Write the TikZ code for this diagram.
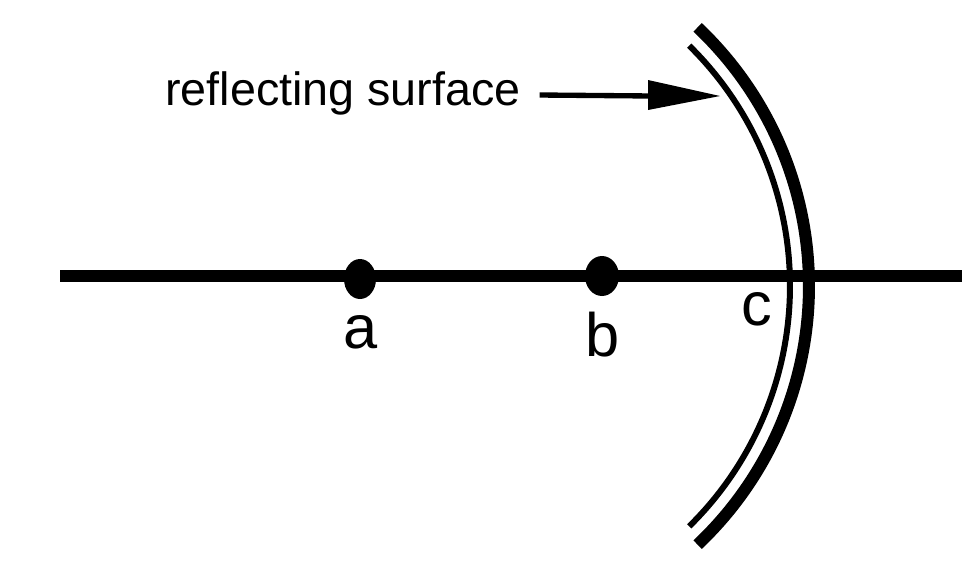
\documentclass[tikz,border=0pt]{standalone}
\usepackage{fontspec}
\setmainfont{Liberation Sans}
\begin{document}
\begin{tikzpicture}[x=0.75pt,y=-0.75pt,
  lbl/.style={font=\fontsize{46}{50}\selectfont,inner sep=0pt}]
\useasboundingbox (0,0) rectangle (979,583);
\coordinate (L) at (60,276);
\coordinate (R) at (962,276);
\draw[line width=9.5pt] (L) -- (R);
\node[circle,fill=black,minimum size=30pt,inner sep=0pt,xscale=0.8] (a) at (360,279) {};
\node[circle,fill=black,minimum size=30pt,inner sep=0pt,xscale=0.85] (b) at (602,276) {};
\node[lbl] (la) at (361,332) {a};
\node[lbl] (lb) at (603,335) {b};
\node[lbl] (lc) at (757,309) {c};
\coordinate (C) at (453,286);
\draw[line width=9pt] (C) ++(46.6:356) arc[start angle=46.6,end angle=-46.6,radius=356];
\draw[line width=4.5pt] (C) ++(45.5:337) arc[start angle=45.5,end angle=-45.5,radius=337];
\node[font=\fontsize{35}{38}\selectfont,inner sep=0pt,anchor=west] (t) at (165,93) {reflecting surface};
\coordinate (tip) at (720,96);
\draw[line width=4pt] (t.east) ++(14pt,2) -- (652,96);
\fill (648,80) -- (tip) -- (648,110) -- cycle;
\end{tikzpicture}
\end{document}
